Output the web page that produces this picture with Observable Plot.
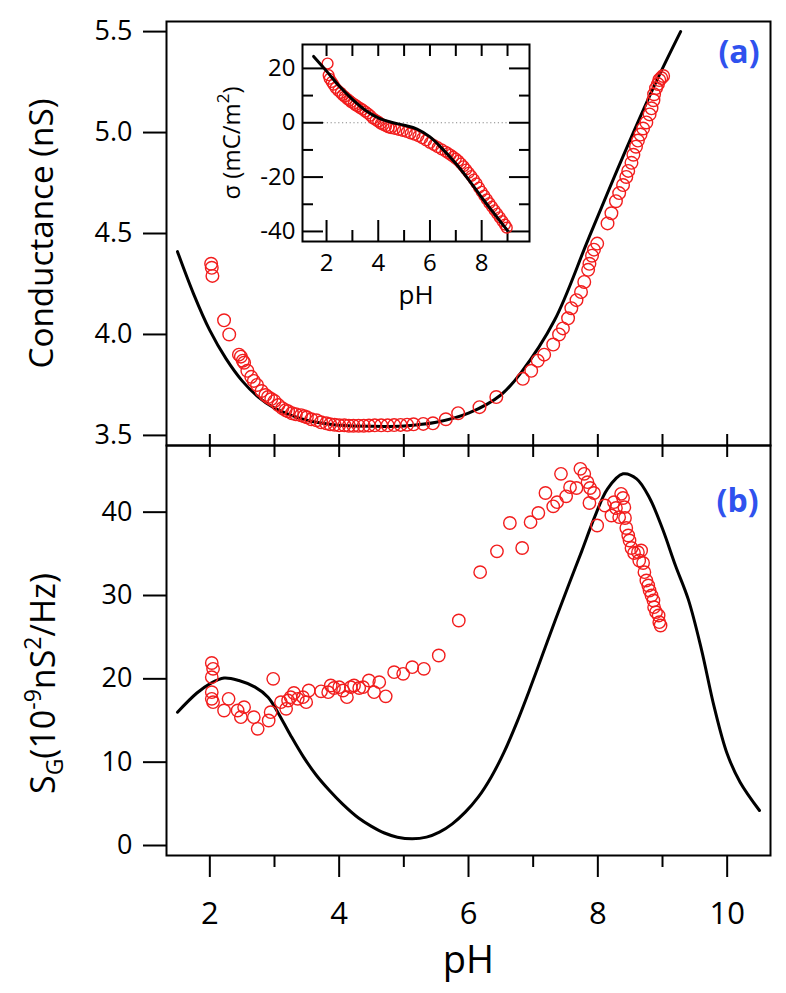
<!DOCTYPE html>
<html><head><meta charset="utf-8">
<script src="https://cdn.jsdelivr.net/npm/d3@7"></script>
<script src="https://cdn.jsdelivr.net/npm/@observablehq/plot@0.6"></script>
<style>
body{margin:0;background:#fff;}
#wrap{position:relative;width:786px;height:993px;overflow:hidden;}
#wrap > div{position:absolute;}
</style></head>
<body><div id="wrap"><div id="top" style="left:0;top:0"></div><div id="bottom" style="left:0;top:433px"></div><div id="inset" style="left:200px;top:30px"></div></div>
<script>
// ---------- DATA ----------
// Panel (a): conductance
const condPH = [2.02,2.03,2.04,2.22,2.30,2.45,2.48,2.51,2.53,2.58,2.64,2.68,2.73,2.80,2.86,2.90,2.95,3.00,3.06,3.12,3.17,3.21,3.27,3.33,3.41,3.46,3.50,3.57,3.65,3.72,3.80,3.86,3.93,4.00,4.08,4.15,4.22,4.30,4.38,4.46,4.55,4.65,4.75,4.85,4.95,5.05,5.15,5.30,5.45,5.65,5.84,6.17,6.43,6.84,6.97,7.07,7.17,7.31,7.40,7.46,7.54,7.59,7.67,7.74,7.79,7.85,7.87,7.91,7.94,7.99,8.15,8.21,8.28,8.33,8.39,8.44,8.47,8.52,8.55,8.59,8.62,8.66,8.70,8.75,8.80,8.83,8.86,8.87,8.90,8.93,8.95,8.98,9.01];
const condG  = [4.35,4.33,4.29,4.07,4.00,3.90,3.89,3.87,3.86,3.82,3.79,3.77,3.75,3.72,3.70,3.69,3.68,3.67,3.65,3.635,3.625,3.62,3.61,3.605,3.60,3.595,3.59,3.58,3.575,3.565,3.56,3.555,3.553,3.55,3.55,3.548,3.548,3.548,3.548,3.549,3.55,3.55,3.55,3.551,3.552,3.553,3.555,3.557,3.56,3.58,3.61,3.64,3.69,3.78,3.82,3.87,3.90,3.95,4.00,4.03,4.08,4.13,4.17,4.21,4.26,4.32,4.35,4.39,4.42,4.45,4.55,4.60,4.66,4.70,4.74,4.78,4.81,4.85,4.89,4.93,4.96,4.99,5.02,5.05,5.09,5.12,5.16,5.19,5.22,5.24,5.26,5.27,5.28];
const condFitPH = [1.50,1.75,2.00,2.25,2.50,2.75,3.00,3.25,3.50,3.75,4.00,4.50,5.00,5.50,6.00,6.50,6.81,7.33,7.85,8.36,8.87,9.28];
const condFitG  = [4.41,4.20,4.02,3.88,3.77,3.69,3.635,3.60,3.575,3.56,3.55,3.545,3.547,3.565,3.61,3.70,3.81,4.07,4.47,4.86,5.23,5.5];
const condTicks = [3.5,4.0,4.5,5.0,5.5];

// Panel (b): noise S_G
const sgPH = [2.03,2.05,2.03,2.03,2.03,2.05,2.29,2.22,2.43,2.48,2.53,2.68,2.74,2.91,2.94,2.98,3.10,3.18,3.21,3.25,3.30,3.36,3.44,3.49,3.53,3.72,3.83,3.87,3.92,4.00,4.06,4.12,4.18,4.23,4.31,4.37,4.46,4.54,4.62,4.72,4.85,4.99,5.13,5.31,5.54,5.85,6.18,6.44,6.64,6.83,6.96,7.08,7.19,7.31,7.37,7.43,7.51,7.57,7.67,7.73,7.79,7.84,7.88,7.87,7.94,7.99,8.11,8.21,8.25,8.28,8.36,8.39,8.41,8.33,8.42,8.44,8.47,8.49,8.52,8.56,8.62,8.67,8.64,8.70,8.72,8.75,8.78,8.80,8.83,8.86,8.87,8.90,8.94,8.95,8.97];
const sgVal = [21.9,21.2,20.2,18.4,17.6,17.2,17.6,16.2,16.2,15.4,16.6,15.4,14.0,15.0,16.0,20.0,17.2,16.4,17.4,17.8,18.3,17.6,17.8,17.2,18.6,18.5,18.4,19.2,18.9,19.0,18.6,17.8,19.0,19.2,18.9,19.0,19.8,18.4,19.6,17.9,20.8,20.6,21.4,21.2,22.8,27.0,32.8,35.3,38.7,35.7,38.8,39.9,42.3,40.7,41.2,44.6,41.9,43.0,42.9,45.2,44.6,43.6,42.9,41.1,42.3,38.4,40.8,39.6,41.2,40.5,42.2,41.7,40.6,39.4,39.3,38.1,37.2,36.6,35.7,35.1,35.2,35.4,34.2,33.9,32.8,31.8,31.2,30.6,30.0,29.4,28.6,28.0,27.6,26.8,26.4];
const sgFitPH = [1.50,1.80,2.00,2.22,2.45,2.70,2.90,3.05,3.25,3.45,3.65,3.85,4.05,4.30,4.50,4.70,4.90,5.13,5.35,5.55,5.75,5.95,6.15,6.35,6.55,6.75,6.95,7.15,7.35,7.55,7.75,7.95,8.15,8.39,8.60,8.80,9.00,9.20,9.40,9.60,9.80,10.00,10.20,10.50];
const sgFit   = [16.0,18.3,19.4,20.1,19.8,19.0,17.8,16.0,13.2,10.6,8.4,6.6,5.0,3.3,2.3,1.5,1.0,0.8,1.0,1.6,2.6,4.0,5.8,8.2,11.2,14.8,18.8,23.0,27.2,31.3,35.3,39.4,42.8,44.6,44.0,41.7,38.0,33.6,29.5,23.6,16.6,11.0,7.6,4.2];
const sgTicks = [0,10,20,30,40];

// Inset: surface charge sigma
const sigPH = [2.04,2.08,2.12,2.20,2.27,2.35,2.45,2.55,2.62,2.70,2.80,2.88,2.95,3.05,3.12,3.20,3.30,3.40,3.50,3.60,3.70,3.80,3.90,4.00,4.10,4.20,4.30,4.40,4.50,4.65,4.80,4.95,5.10,5.25,5.40,5.55,5.70,5.85,6.00,6.15,6.30,6.45,6.60,6.70,6.80,6.90,7.00,7.10,7.20,7.30,7.40,7.50,7.60,7.70,7.80,7.90,8.00,8.10,8.20,8.30,8.40,8.50,8.60,8.70,8.80,8.90,8.97];
const sigVal = [21.8,17.5,16.2,15.0,14.0,12.8,11.8,11.0,10.2,9.6,8.8,8.2,7.6,7.0,6.5,6.0,5.4,4.8,4.1,3.4,2.6,1.6,1.0,0.4,-0.3,-0.8,-1.3,-1.7,-2.0,-2.3,-2.6,-3.0,-3.4,-3.9,-4.4,-4.9,-5.7,-6.5,-7.4,-8.2,-9.0,-9.8,-10.6,-11.2,-11.8,-12.5,-13.2,-14.0,-15.0,-16.0,-17.2,-18.4,-19.6,-20.9,-22.3,-23.9,-25.4,-26.8,-28.2,-29.6,-30.9,-32.2,-33.5,-34.8,-36.2,-37.5,-38.6];
const sigFitPH = [1.50,2.00,2.50,3.00,3.50,4.00,4.50,5.00,5.50,6.00,6.50,7.00,7.50,8.00,8.50,9.00];
const sigFit   = [24.4,19.0,13.4,8.6,4.6,1.8,0.2,-0.9,-2.3,-5.2,-9.8,-15.0,-21.0,-27.5,-33.6,-39.7];
const sigMajor = [-40,-20,0,20];
const sigMinor = [-30,-10,10];

const xMajor = [2,4,6,8,10];
const xMinor = [3,5,7,9];
const xAll = [2,3,4,5,6,7,8,9,10];
const insetMajor = [2,4,6,8];
const insetMinor = [3,5,7,9];

const condLabel = "Conductance (nS)";
const sgLabelParts = ["S","G","(10","-9","nS","2","/Hz)"];
const sigLabelParts = ["σ (mC/m","2",")"];
const xLabel = "pH";
const panelA = "(a)", panelB = "(b)";

// ---------- HELPERS ----------
const FONT = "'Open Sans', sans-serif";
const RED = "#f21d1d";
const BLUE = "#2f52ee";
const zip = (xs, ys, kx, ky) => xs.map((v, i) => ({[kx]: v, [ky]: ys[i]}));
const noLabel = () => "";
const baseStyle = {background: "transparent", overflow: "visible", fontFamily: FONT, color: "black"};

function richText(svg, parts, roles, big, small, shifts) {
  const joined = parts.join("");
  const node = d3.select(svg).selectAll("text").filter(function () { return this.textContent === joined; });
  node.text(null);
  let cur = 0;
  parts.forEach((p, i) => {
    const target = shifts[roles[i]];
    node.append("tspan").attr("dy", target - cur).attr("font-size", roles[i] === "base" ? big : small).text(p);
    cur = target;
  });
}

// ---------- PANEL (a) ----------
const topPlot = Plot.plot({
  width: 786, height: 457,
  marginTop: 21, marginBottom: 12, marginLeft: 166, marginRight: 16,
  x: {domain: [1.33, 10.67]},
  y: {domain: [3.45, 5.55]},
  style: baseStyle,
  marks: [
    Plot.axisY(condTicks, {anchor: "left", tickSize: 23, tickPadding: 11, fontSize: 27, strokeWidth: 2, tickFormat: d3.format(".1f"), label: null}),
    Plot.axisX(xAll, {anchor: "bottom", tickSize: 12, strokeWidth: 2, tickFormat: noLabel, label: null}),
    Plot.line(zip(condFitPH, condFitG, "pH", "g"), {x: "pH", y: "g", stroke: "black", strokeWidth: 3, curve: "catmull-rom"}),
    Plot.dot(zip(condPH, condG, "pH", "g"), {x: "pH", y: "g", r: 6.3, stroke: RED, strokeWidth: 1.4, fill: "none"}),
    Plot.frame({strokeWidth: 2}),
    Plot.text([condLabel], {text: d => d, frameAnchor: "left", dx: -124, rotate: -90, fontSize: 33, textAnchor: "middle", lineAnchor: "middle"}),
    Plot.text([panelA], {text: d => d, frameAnchor: "top-right", dx: -11, dy: 31, textAnchor: "end", lineAnchor: "middle", fill: BLUE, fontWeight: "bold", fontSize: 32})
  ]
});
document.getElementById("top").append(topPlot);
d3.select(topPlot).selectAll("text").filter(function () { return this.textContent === condLabel; })
  .attr("textLength", 270).attr("lengthAdjust", "spacingAndGlyphs");

// ---------- PANEL (b) ----------
const bottomPlot = Plot.plot({
  width: 786, height: 560,
  marginTop: 12, marginBottom: 138, marginLeft: 166, marginRight: 16,
  x: {domain: [1.33, 10.67]},
  y: {domain: [-1.2, 48]},
  style: baseStyle,
  marks: [
    Plot.axisX(xAll, {anchor: "top", tickSize: 12, strokeWidth: 2, tickFormat: noLabel, label: null}),
    Plot.axisX(xMajor, {anchor: "bottom", tickSize: 22, tickPadding: 24, fontSize: 31, strokeWidth: 2, label: null}),
    Plot.axisX(xMinor, {anchor: "bottom", tickSize: 12, strokeWidth: 2, tickFormat: noLabel, label: null}),
    Plot.axisY(sgTicks, {anchor: "left", tickSize: 23, tickPadding: 11, fontSize: 27, strokeWidth: 2, label: null}),
    Plot.line(zip(sgFitPH, sgFit, "pH", "s"), {x: "pH", y: "s", stroke: "black", strokeWidth: 3, curve: "catmull-rom"}),
    Plot.dot(zip(sgPH, sgVal, "pH", "s"), {x: "pH", y: "s", r: 6.2, stroke: RED, strokeWidth: 1.4, fill: "none"}),
    Plot.frame({strokeWidth: 2}),
    Plot.text([xLabel], {text: d => d, frameAnchor: "bottom", dy: 105, fontSize: 38, textAnchor: "middle", lineAnchor: "middle"}),
    Plot.text([sgLabelParts.join("")], {text: d => d, frameAnchor: "left", dx: -122, dy: 33, rotate: -90, fontSize: 34, textAnchor: "middle", lineAnchor: "middle"}),
    Plot.text([panelB], {text: d => d, frameAnchor: "top-right", dx: -12, dy: 56, textAnchor: "end", lineAnchor: "middle", fill: BLUE, fontWeight: "bold", fontSize: 32})
  ]
});
document.getElementById("bottom").append(bottomPlot);
richText(bottomPlot, sgLabelParts, ["base","sub","base","sup","base","sup","base"], 34, 23, {base: 0, sub: 8, sup: -14});

// ---------- INSET ----------
const insetPlot = Plot.plot({
  width: 340, height: 290,
  marginTop: 14, marginBottom: 79, marginLeft: 102, marginRight: 11,
  x: {domain: [1.07, 9.85]},
  y: {domain: [-43.7, 28.8]},
  style: baseStyle,
  marks: [
    Plot.ruleY([0], {stroke: "#888", strokeWidth: 1.2, strokeDasharray: "1.2,2.6", insetLeft: 21, insetRight: 21}),
    Plot.axisY(sigMajor, {anchor: "left", tickSize: -21, tickPadding: 28, fontSize: 24, strokeWidth: 2, tickFormat: d => String(d), label: null}),
    Plot.axisY(sigMinor, {anchor: "left", tickSize: -11, strokeWidth: 2, tickFormat: noLabel, label: null}),
    Plot.axisY(sigMajor, {anchor: "right", tickSize: -21, strokeWidth: 2, tickFormat: noLabel, label: null}),
    Plot.axisY(sigMinor, {anchor: "right", tickSize: -11, strokeWidth: 2, tickFormat: noLabel, label: null}),
    Plot.axisX(insetMajor, {anchor: "bottom", tickSize: -21, tickPadding: 33, fontSize: 24, strokeWidth: 2, label: null}),
    Plot.axisX(insetMinor, {anchor: "bottom", tickSize: -11, strokeWidth: 2, tickFormat: noLabel, label: null}),
    Plot.axisX(xAll.filter(v => v < 10), {anchor: "top", tickSize: -11, strokeWidth: 2, tickFormat: noLabel, label: null}),
    Plot.dot(zip(sigPH, sigVal, "pH", "q"), {x: "pH", y: "q", r: 5.4, stroke: RED, strokeWidth: 1.4, fill: "none"}),
    Plot.line(zip(sigFitPH, sigFit, "pH", "q"), {x: "pH", y: "q", stroke: "black", strokeWidth: 3, curve: "catmull-rom"}),
    Plot.frame({strokeWidth: 2}),
    Plot.text([sigLabelParts.join("")], {text: d => d, frameAnchor: "left", dx: -70, rotate: -90, fontSize: 24, textAnchor: "middle", lineAnchor: "middle"}),
    Plot.text([xLabel], {text: d => d, frameAnchor: "bottom", dy: 54, fontSize: 26, textAnchor: "middle", lineAnchor: "middle"})
  ]
});
document.getElementById("inset").append(insetPlot);
richText(insetPlot, sigLabelParts, ["base","sup","base"], 24, 17, {base: 0, sup: -11});
</script>
</body></html>
